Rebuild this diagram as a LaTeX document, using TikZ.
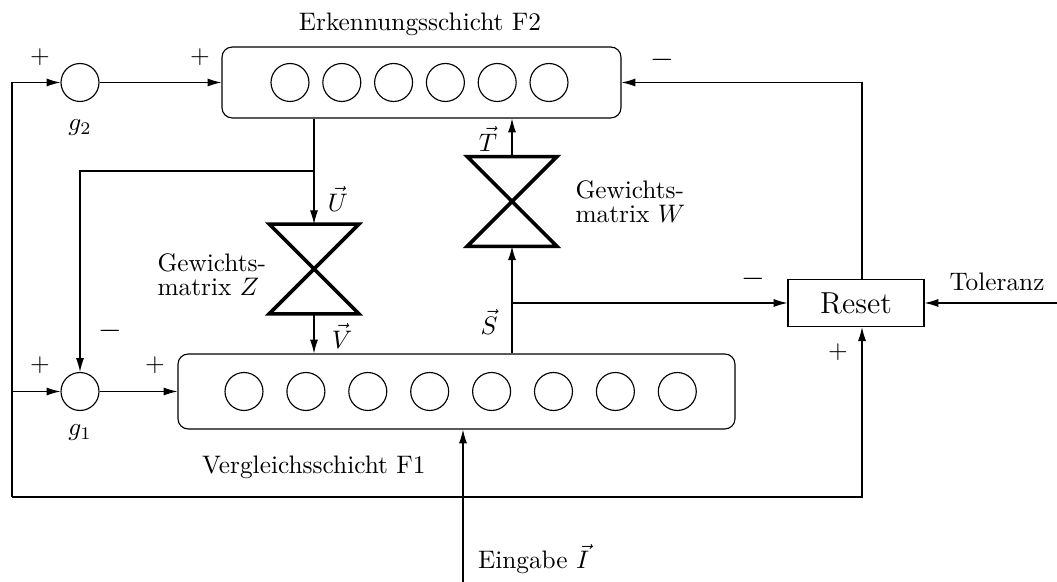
\documentclass[tikz,border=0pt]{standalone}
\usetikzlibrary{arrows.meta}
\begin{document}
\begin{tikzpicture}[x=0.395pt,y=-0.395pt,
  arr/.style={-{Latex[length=5.5pt,width=3.2pt]}, line width=0.45pt},
  sum/.style={circle, draw, line width=0.45pt, minimum size=15pt, inner sep=0pt},
  neuron/.style={circle, draw, line width=0.45pt, minimum size=15pt, inner sep=0pt},
  layer/.style={draw, rounded corners=4pt, line width=0.45pt, inner sep=0pt},
  hgbox/.style={minimum width=35pt, minimum height=35pt, inner sep=0pt},
  hg/.style={line width=1.4pt, line join=miter},
  lbl/.style={inner sep=1pt, font=\normalsize},
  mlbl/.style={inner sep=0pt, align=left, anchor=north west, font={\fontsize{10}{9.5}\selectfont}}
]
\useasboundingbox (0,0) rectangle (1057,582);

% summing nodes
\node[sum] (g2) at (80,82.5) {};
\node[sum] (g1) at (80,391.5) {};

% layers
\node[layer, minimum width=157.6pt, minimum height=28pt] (F2) at (421.5,82.5) {};
\node[layer, minimum width=220pt, minimum height=29.6pt] (F1) at (456.5,391.5) {};

\foreach \i in {0,...,5} {
  \node[neuron] (n2\i) at ({290+51.8*\i},82.5) {};
}
\foreach \i in {0,...,7} {
  \node[neuron] (n1\i) at ({244+61.9*\i},391.5) {};
}

% weight matrices
\node[hgbox] (Z) at (314,269) {};
\node[hgbox] (W) at (512,201.5) {};
\draw[hg] (Z.north west) -- (Z.north east) -- (Z.south west) -- (Z.south east) -- cycle;
\draw[hg] (W.north west) -- (W.north east) -- (W.south west) -- (W.south east) -- cycle;

% reset
\node[draw, line width=0.45pt, minimum width=53.7pt, minimum height=18.6pt, inner sep=0pt, font=\large] (R) at (856,303) {Reset};

% coordinates
\coordinate (lt) at (12,82.5);
\coordinate (lb) at (12,497);
\coordinate (rb) at (862,497);
\coordinate (ub) at (314,171);
\coordinate (sb) at (512,303);
\coordinate (tol) at (1057,303);
\coordinate (inp) at (463,582);

% connectors
\draw[arr] (lb) -- (lt) -- (g2);
\draw[arr] (lb) -- (rb) -- (rb |- R.south);
\draw[arr] (lb |- g1) -- (g1);
\draw[arr] (g2) -- (F2.west);
\draw[arr] (g1) -- (F1.west);
\draw[arr] (Z |- F2.south) -- (Z.north);
\draw[arr] (ub) -| (g1.north);
\draw[arr] (Z.south) -- (Z.south |- F1.north);
\draw[arr] (W |- F1.north) -- (W.south);
\draw[arr] (W.north) -- (W.north |- F2.south);
\draw[arr] (sb) -- (R.west);
\draw[arr] (tol) -- (R.east);
\draw[arr] (rb |- R.north) |- (F2.east);
\draw[arr] (inp) -- (inp |- F1.south);

% labels
\node[lbl] (lF2) at (420,24) {Erkennungsschicht F2};
\node[lbl, anchor=west] (lF1) at (199,467) {Vergleichsschicht F1};
\node[lbl, anchor=west] (lin) at (475,559) {Eingabe $\vec{I}$};
\node[lbl] (ltol) at (997,282) {Toleranz};
\node[lbl] (lg2) at (80,128) {$g_2$};
\node[lbl] (lg1) at (80,433) {$g_1$};
\node[lbl] (p1) at (40,57) {$+$};
\node[lbl] (p2) at (200,57) {$+$};
\node[lbl] (m1) at (662,60) {\large$-$};
\node[lbl] (p3) at (40,365) {$+$};
\node[lbl] (m2) at (110,331) {\large$-$};
\node[lbl] (p4) at (155,365) {$+$};
\node[lbl] (m3) at (753,279) {\large$-$};
\node[lbl] (p5) at (838,352) {$+$};
\node[lbl] (lU) at (338,199) {$\vec{U}$};
\node[lbl] (lV) at (342,336) {$\vec{V}$};
\node[lbl] (lT) at (488,139) {$\vec{T}$};
\node[lbl] (lS) at (489,322) {$\vec{S}$};
\node[mlbl] (lZ) at (157,253) {Gewichts-\\matrix $Z$};
\node[mlbl] (lW) at (575,180) {Gewichts-\\matrix $W$};
\end{tikzpicture}
\end{document}
